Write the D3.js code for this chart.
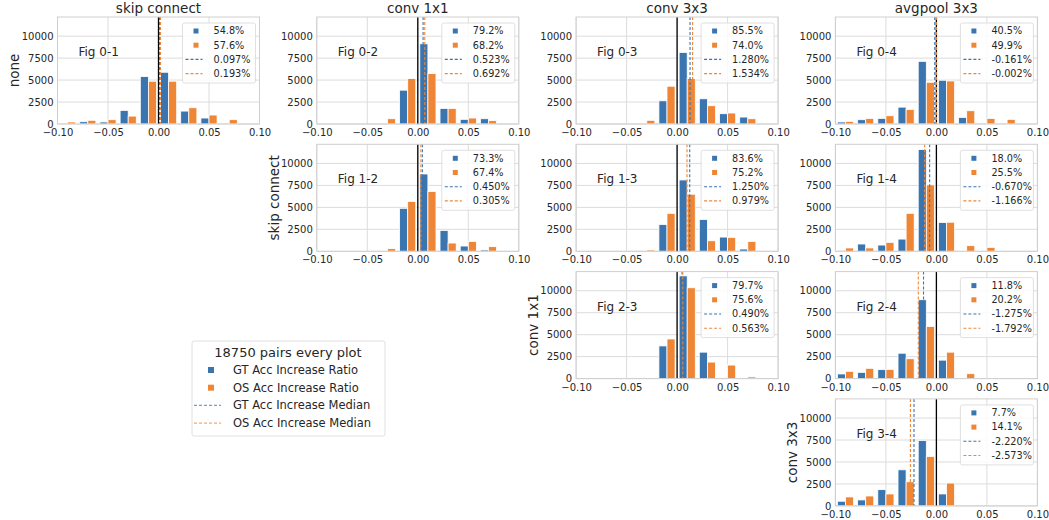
<!DOCTYPE html>
<html>
<head>
<meta charset="utf-8">
<script src="https://cdn.jsdelivr.net/npm/d3@7"></script>
<style>
  body { margin: 0; background: #fff; }
  text { font-family: "DejaVu Sans", sans-serif; }
</style>
</head>
<body>
<div id="chart"></div>
<script>
// bins of width 0.02 between -0.10 and 0.10
var binEdges = [-0.10, -0.08, -0.06, -0.04, -0.02, 0.00, 0.02, 0.04, 0.06, 0.08, 0.10];
var xTicks = [-0.10, -0.05, 0.00, 0.05, 0.10];
var yTicks = [0, 2500, 5000, 7500, 10000];

var colTitles = ["skip connect", "conv 1x1", "conv 3x3", "avgpool 3x3"];
var rowLabels = ["none", "skip connect", "conv 1x1", "conv 3x3"];

var panelNames = ["Fig 0-1", "Fig 0-2", "Fig 0-3", "Fig 0-4", "Fig 1-2", "Fig 1-3", "Fig 1-4", "Fig 2-3", "Fig 2-4", "Fig 3-4"];
var panelRow = [0, 0, 0, 0, 1, 1, 1, 2, 2, 3];
var panelCol = [0, 1, 2, 3, 1, 2, 3, 2, 3, 3];

var gtCounts = [
  [110, 260, 230, 1550, 5400, 5890, 1470, 680, 110, 0],
  [0, 0, 0, 0, 3850, 9130, 1770, 530, 600, 0],
  [0, 0, 0, 0, 2640, 8150, 2870, 1170, 790, 0],
  [230, 490, 640, 1920, 7130, 4980, 750, 110, 110, 0],
  [0, 0, 0, 0, 4890, 8800, 2370, 600, 150, 0],
  [0, 0, 0, 0, 3050, 8120, 3610, 1620, 260, 0],
  [110, 830, 710, 1390, 11580, 3270, 30, 0, 0, 0],
  [0, 0, 0, 0, 3720, 11690, 3010, 75, 0, 0],
  [530, 710, 1020, 2890, 8980, 2100, 30, 0, 0, 0],
  [530, 680, 1850, 4110, 7430, 1360, 0, 0, 0, 0]
];
var osCounts = [
  [230, 420, 490, 900, 4870, 4870, 1850, 1020, 490, 0],
  [0, 0, 0, 600, 5170, 5740, 1770, 680, 380, 0],
  [0, 0, 0, 420, 4300, 5170, 2080, 1250, 600, 0],
  [300, 640, 940, 1660, 4750, 4900, 1510, 640, 530, 0],
  [0, 0, 0, 300, 5680, 6800, 940, 1130, 530, 0],
  [0, 0, 0, 150, 4320, 6500, 1200, 1580, 1130, 0],
  [380, 380, 1020, 4320, 7560, 3310, 640, 450, 0, 0],
  [0, 0, 0, 0, 4510, 10340, 1880, 1540, 190, 0],
  [830, 1170, 1050, 2260, 5940, 3010, 560, 30, 0, 0],
  [1020, 1130, 1360, 2750, 5620, 2600, 0, 0, 0, 0]
];
var gtRatio = ["54.8%", "79.2%", "85.5%", "40.5%", "73.3%", "83.6%", "18.0%", "79.7%", "11.8%", "7.7%"];
var osRatio = ["57.6%", "68.2%", "74.0%", "49.9%", "67.4%", "75.2%", "25.5%", "75.6%", "20.2%", "14.1%"];
var gtMedian = [0.097, 0.523, 1.280, -0.161, 0.450, 1.250, -0.670, 0.490, -1.275, -2.220];
var osMedian = [0.193, 0.692, 1.534, -0.002, 0.305, 0.979, -1.166, 0.563, -1.792, -2.573];

var blue = "#3a75b0";
var orange = "#ef8636";
var gridColor = "#dcdcdc";
var tickColor = "#262626";

var W = 1049, H = 520;
var pw = 202, ph = 107;
var colLeft = function (c) { return 57.5 + c * 259.3; };
var rowTop = function (r) { return 17 + r * 127.3; };

var svg = d3.select("#chart").append("svg")
  .attr("width", W)
  .attr("height", H);

var x = d3.scaleLinear().domain([-0.10, 0.10]).range([0, pw]);
var y = d3.scaleLinear().domain([0, 12180]).range([ph, 0]);

panelNames.forEach(function (name, i) {
  var r = panelRow[i], c = panelCol[i];
  var g = svg.append("g")
    .attr("transform", "translate(" + colLeft(c) + "," + rowTop(r) + ")");

  // grid
  g.selectAll(".vg").data(xTicks).enter().append("line")
    .attr("x1", function (d) { return x(d); })
    .attr("x2", function (d) { return x(d); })
    .attr("y1", 0).attr("y2", ph)
    .attr("stroke", gridColor).attr("stroke-width", 1);
  g.selectAll(".hg").data(yTicks).enter().append("line")
    .attr("x1", 0).attr("x2", pw)
    .attr("y1", function (d) { return y(d); })
    .attr("y2", function (d) { return y(d); })
    .attr("stroke", gridColor).attr("stroke-width", 1);

  // bars, two per bin, rwidth 0.8
  var bins = binEdges.slice(0, -1).map(function (e, k) {
    return { lo: e, hi: binEdges[k + 1], gt: gtCounts[i][k], os: osCounts[i][k] };
  });
  var bw = 0.02 * 0.8 / 2;
  g.selectAll(".gt").data(bins).enter().append("rect")
    .attr("x", function (d) { return x(d.lo + 0.002); })
    .attr("width", function (d) { return x(d.lo + 0.002 + bw) - x(d.lo + 0.002); })
    .attr("y", function (d) { return y(d.gt); })
    .attr("height", function (d) { return ph - y(d.gt); })
    .attr("fill", blue).attr("stroke", "#fff").attr("stroke-width", 0.8);
  g.selectAll(".os").data(bins).enter().append("rect")
    .attr("x", function (d) { return x(d.lo + 0.002 + bw); })
    .attr("width", function (d) { return x(d.lo + 0.002 + 2 * bw) - x(d.lo + 0.002 + bw); })
    .attr("y", function (d) { return y(d.os); })
    .attr("height", function (d) { return ph - y(d.os); })
    .attr("fill", orange).attr("stroke", "#fff").attr("stroke-width", 0.8);

  // zero line and medians
  g.append("line")
    .attr("x1", x(0)).attr("x2", x(0)).attr("y1", 0).attr("y2", ph)
    .attr("stroke", "#000").attr("stroke-width", 1.3);
  [[gtMedian[i], blue], [osMedian[i], orange]].forEach(function (m) {
    g.append("line")
      .attr("x1", x(m[0] / 100)).attr("x2", x(m[0] / 100))
      .attr("y1", 0).attr("y2", ph)
      .attr("stroke", m[1]).attr("stroke-width", 1.1)
      .attr("stroke-dasharray", "3,2");
  });

  // frame
  g.append("rect")
    .attr("width", pw).attr("height", ph)
    .attr("fill", "none").attr("stroke", "#cfcfcf").attr("stroke-width", 1);

  // axes
  var xa = g.append("g").attr("transform", "translate(0," + ph + ")")
    .call(d3.axisBottom(x).tickValues(xTicks).tickSize(0).tickPadding(5)
      .tickFormat(function (d) { return d3.format(".2f")(d).replace("-", "\u2212"); }));
  var ya = g.append("g")
    .call(d3.axisLeft(y).tickValues(yTicks).tickSize(0).tickPadding(4)
      .tickFormat(d3.format("d")));
  [xa, ya].forEach(function (a) {
    a.select(".domain").remove();
    a.selectAll("text").attr("font-size", 10).attr("fill", tickColor)
      .style("font-family", "DejaVu Sans");
  });

  // figure label
  g.append("text")
    .attr("x", 21).attr("y", 39)
    .attr("font-size", 12).attr("fill", tickColor)
    .text(name);

  // legend
  var lg = g.append("g").attr("transform", "translate(125,6)");
  lg.append("rect")
    .attr("width", 73).attr("height", 60).attr("rx", 2)
    .attr("fill", "#fff").attr("fill-opacity", 0.85)
    .attr("stroke", "#d8d8d8").attr("stroke-width", 0.8);
  var items = [
    { kind: "sq", color: blue, label: gtRatio[i] },
    { kind: "sq", color: orange, label: osRatio[i] },
    { kind: "dash", color: blue, label: gtMedian[i].toFixed(3) + "%" },
    { kind: "dash", color: orange, label: osMedian[i].toFixed(3) + "%" }
  ];
  items.forEach(function (it, k) {
    var cy = 8 + k * 14.2;
    if (it.kind === "sq") {
      lg.append("rect").attr("x", 11).attr("y", cy - 2.5)
        .attr("width", 5).attr("height", 5).attr("fill", it.color);
    } else {
      lg.append("line").attr("x1", 3).attr("x2", 20).attr("y1", cy).attr("y2", cy)
        .attr("stroke", it.color).attr("stroke-width", 1.1)
        .attr("stroke-dasharray", "3,2");
    }
    lg.append("text")
      .attr("x", 31).attr("y", cy).attr("dy", "0.35em")
      .attr("font-size", 9.7).attr("fill", tickColor)
      .text(it.label);
  });
});

// column titles
colTitles.forEach(function (t, c) {
  svg.append("text")
    .attr("x", colLeft(c) + pw / 2).attr("y", rowTop(0) - 4)
    .attr("text-anchor", "middle")
    .attr("font-size", 13.5).attr("fill", tickColor)
    .text(t);
});

// row labels, left of the first panel of each row
rowLabels.forEach(function (t, r) {
  var cx = colLeft(r) - 43, cy = rowTop(r) + ph / 2;
  svg.append("text")
    .attr("transform", "translate(" + cx + "," + cy + ") rotate(-90)")
    .attr("text-anchor", "middle").attr("dy", "0.35em")
    .attr("font-size", 13.5).attr("fill", tickColor)
    .text(t);
});

// overall legend
var legendItems = [
  { kind: "sq", color: blue, label: "GT Acc Increase Ratio" },
  { kind: "sq", color: orange, label: "OS Acc Increase Ratio" },
  { kind: "dash", color: blue, label: "GT Acc Increase Median" },
  { kind: "dash", color: orange, label: "OS Acc Increase Median" }
];
var L = svg.append("g").attr("transform", "translate(192,341)");
L.append("rect")
  .attr("width", 193).attr("height", 95).attr("rx", 2)
  .attr("fill", "#fff").attr("stroke", "#d8d8d8").attr("stroke-width", 0.8);
L.append("text")
  .attr("x", 96).attr("y", 11).attr("dy", "0.35em")
  .attr("text-anchor", "middle")
  .attr("font-size", 13).attr("fill", tickColor)
  .text("18750 pairs every plot");
legendItems.forEach(function (it, k) {
  var cy = 29 + k * 17.7;
  if (it.kind === "sq") {
    L.append("rect").attr("x", 16).attr("y", cy - 3)
      .attr("width", 6).attr("height", 6).attr("fill", it.color);
  } else {
    L.append("line").attr("x1", 2).attr("x2", 29).attr("y1", cy).attr("y2", cy)
      .attr("stroke", it.color).attr("stroke-width", 1.1).attr("stroke-opacity", 0.7)
      .attr("stroke-dasharray", "3,2");
  }
  L.append("text")
    .attr("x", 41).attr("y", cy).attr("dy", "0.35em")
    .attr("font-size", 11.5).attr("fill", tickColor)
    .text(it.label);
});
</script>
</body>
</html>
